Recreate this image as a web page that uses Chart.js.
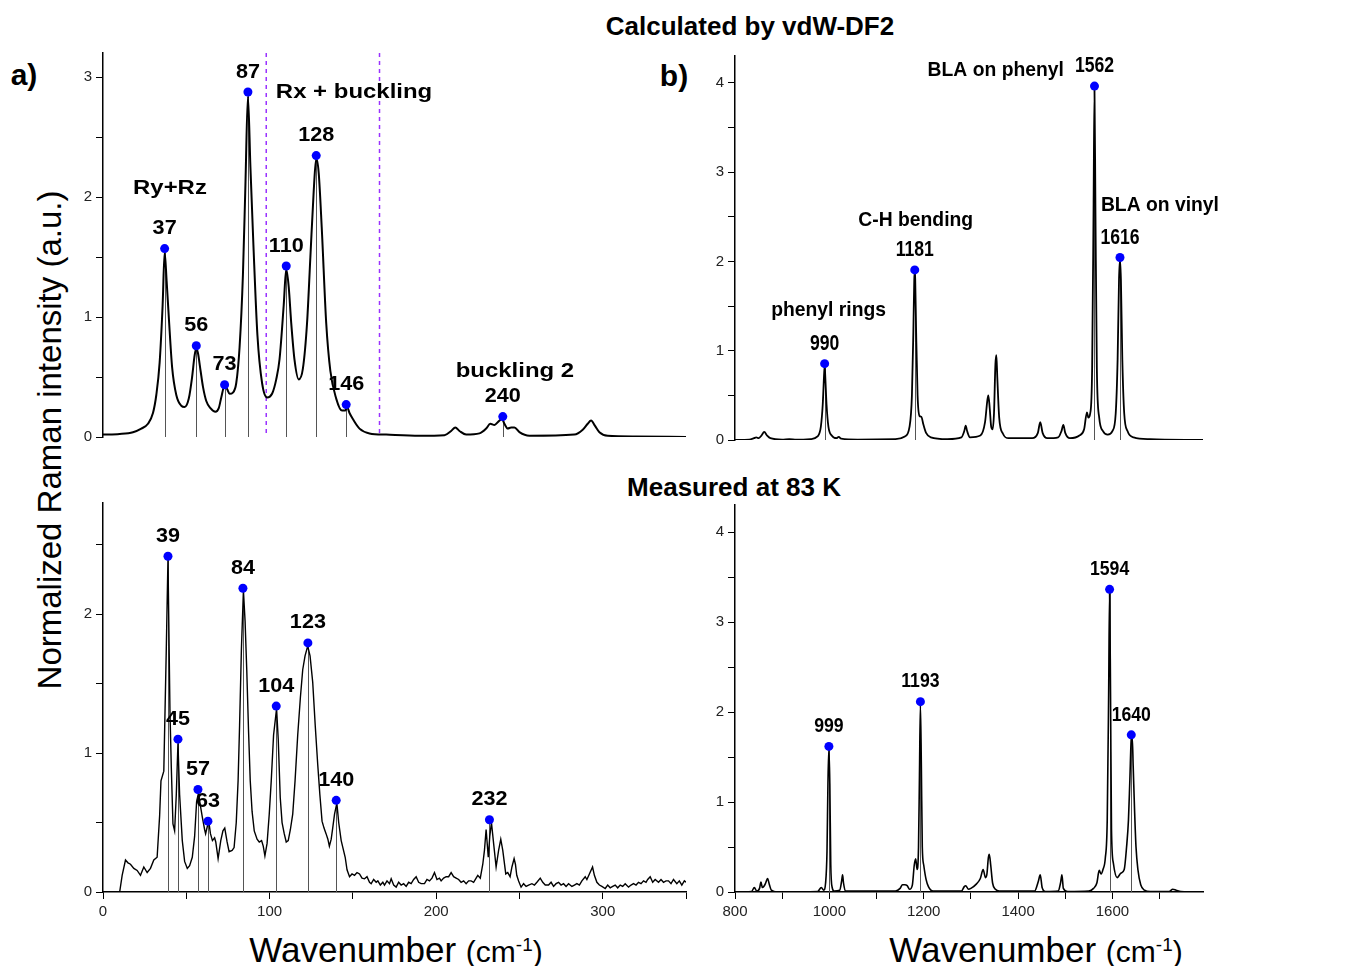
<!DOCTYPE html>
<html lang="en">
<head>
<meta charset="UTF-8">
<title>Raman spectra - calculated vs measured</title>
<script src="https://cdn.jsdelivr.net/npm/chart.js@4.4.0/dist/chart.umd.min.js"></script>
<style>
  body { margin:0; background:#fff; width:1353px; height:966px; position:relative; overflow:hidden;
         font-family:"Liberation Sans", Arial, sans-serif; color:#000; }
  canvas { position:absolute; }
  .txt { position:absolute; transform:translate(-50%,-50%); white-space:nowrap; }
  .bold { font-weight:bold; }
  .axt { font-size:33px; }
  .axt.x { font-size:35px; }
  .axt span { font-size:30px; }
  .axt sup { font-size:19px; }
</style>
</head>
<body>

<div class="txt bold" style="left:750px;top:26px;font-size:26px">Calculated by vdW-DF2</div>
<div class="txt bold" style="left:734px;top:487px;font-size:26px">Measured at 83 K</div>
<div class="txt bold" style="left:24px;top:75px;font-size:30px">a)</div>
<div class="txt bold" style="left:674px;top:76px;font-size:30px">b)</div>
<div class="txt axt" style="left:50px;top:440px;transform:translate(-50%,-50%) rotate(-90deg)">Normalized Raman intensity (a.u.)</div>
<div class="txt axt x" style="left:396px;top:950px">Wavenumber <span>(cm<sup>-1</sup>)</span></div>
<div class="txt axt x" style="left:1036px;top:950px">Wavenumber <span>(cm<sup>-1</sup>)</span></div>

<canvas id="calcLow"></canvas>
<canvas id="calcHigh"></canvas>
<canvas id="measLow"></canvas>
<canvas id="measHigh"></canvas>

<script>
const FONT = '"Liberation Sans", Arial, sans-serif';

// x tick values shared by the upper and lower panels
const lowTicks = [0, 50, 100, 150, 200, 250, 300, 350];
const highTicks = [800, 900, 1000, 1100, 1200, 1300, 1400, 1500, 1600, 1700];

// a) calculated, 0-350 cm-1
const calcLowWn = [0, 10, 18, 23, 27, 30, 32, 34, 35.8, 37, 38.2, 39.5, 41.5, 44, 47, 49, 51.5, 53.5, 55, 56, 57, 58.6, 60, 62, 64.5, 67.5, 69.5, 71, 73, 74.5, 76, 78, 80, 82, 84, 85.5, 87, 88.5, 90.3, 92.7, 95.5, 98.5, 101.5, 104, 106, 108.5, 110, 111.5, 113, 115, 117.5, 120, 122.5, 124.5, 126.5, 128, 129.5, 131.3, 134, 136.5, 140, 143.5, 145.5, 146.5, 148, 150, 154, 160, 170, 190, 205, 209, 211.5, 214, 218, 226, 230, 232.5, 235, 237.5, 239.5, 241, 243, 245, 247, 250, 256, 283, 288, 291, 293, 295.5, 298, 303, 320, 350];
const calcLowInt = [0.02, 0.025, 0.04, 0.07, 0.11, 0.2, 0.35, 0.62, 1.1, 1.54, 1.3, 1.0, 0.58, 0.35, 0.26, 0.25, 0.32, 0.5, 0.68, 0.74, 0.7, 0.55, 0.42, 0.3, 0.24, 0.21, 0.24, 0.33, 0.43, 0.4, 0.36, 0.37, 0.45, 0.75, 1.35, 2.1, 2.84, 2.25, 1.6, 0.85, 0.45, 0.33, 0.36, 0.48, 0.65, 1.1, 1.4, 1.25, 0.95, 0.64, 0.48, 0.57, 0.95, 1.5, 2.05, 2.32, 2.2, 1.75, 0.95, 0.55, 0.32, 0.22, 0.22, 0.25, 0.2, 0.15, 0.07, 0.03, 0.02, 0.01, 0.015, 0.05, 0.08, 0.05, 0.02, 0.03, 0.07, 0.11, 0.1, 0.13, 0.15, 0.11, 0.07, 0.08, 0.08, 0.04, 0.01, 0.02, 0.06, 0.11, 0.137, 0.09, 0.04, 0.01, 0.005, 0];
const calcLowPeakWn = [37, 56, 73, 87, 110, 128, 146, 240];
const calcLowPeakInt = [1.57, 0.76, 0.435, 2.875, 1.425, 2.345, 0.27, 0.17];
const modeBounds = [98, 166];

// b) calculated, 800-1790 cm-1
const calcHighWn = [800, 830, 840, 845, 850, 856, 862, 868, 875, 900, 915, 930, 960, 975, 982, 986, 989, 990, 991, 994, 998, 1005, 1015, 1020, 1025, 1060, 1140, 1160, 1170, 1175, 1178, 1180, 1181, 1182, 1184, 1187, 1191, 1195, 1199, 1205, 1215, 1250, 1280, 1286, 1289, 1292, 1298, 1320, 1330, 1335, 1337, 1340, 1343, 1346, 1349, 1352, 1354, 1356, 1360, 1368, 1380, 1430, 1442, 1447, 1452, 1462, 1485, 1492, 1496, 1500, 1510, 1530, 1540, 1546, 1549, 1553, 1557, 1560, 1562, 1564, 1567, 1572, 1580, 1590, 1600, 1607, 1611, 1614, 1616, 1618, 1621, 1625, 1632, 1645, 1680, 1792];
const calcHighInt = [0, 0.005, 0.02, 0.03, 0.02, 0.05, 0.09, 0.05, 0.02, 0.005, 0.01, 0.003, 0.01, 0.04, 0.15, 0.4, 0.75, 0.82, 0.75, 0.4, 0.15, 0.05, 0.02, 0.035, 0.015, 0.005, 0.01, 0.04, 0.15, 0.5, 1.2, 1.8, 1.88, 1.8, 1.2, 0.5, 0.27, 0.26, 0.18, 0.08, 0.03, 0.01, 0.03, 0.1, 0.16, 0.1, 0.03, 0.05, 0.2, 0.45, 0.5, 0.35, 0.15, 0.12, 0.3, 0.85, 0.95, 0.7, 0.25, 0.07, 0.02, 0.02, 0.08, 0.2, 0.08, 0.02, 0.03, 0.1, 0.17, 0.08, 0.02, 0.05, 0.12, 0.31, 0.25, 0.3, 0.8, 2.6, 3.92, 2.6, 0.8, 0.25, 0.1, 0.06, 0.1, 0.3, 0.9, 1.8, 2.02, 1.8, 0.9, 0.3, 0.1, 0.03, 0.01, 0];
const calcHighPeakWn = [990, 1181, 1562, 1616];
const calcHighPeakInt = [0.855, 1.905, 3.963, 2.044];

// measured at 83 K, 0-350 cm-1
const measLowWn = [10, 11.5, 13.5, 15, 16.5, 18.5, 20.5, 22.5, 24.5, 26.5, 28.5, 30.5, 32.5, 34, 34.8, 36.5, 38, 39, 40.2, 41, 42, 43, 44, 45, 46, 47.6, 49, 50.6, 52, 53.6, 55, 56.2, 57.3, 58.5, 59.6, 61, 61.6, 62.8, 63.6, 64.5, 65.7, 67, 67.7, 69.1, 70.7, 72, 73.1, 74.5, 75.7, 77.5, 78.7, 80, 81.1, 82, 83.1, 84.3, 85.3, 86.3, 87.4, 88.4, 89.5, 90.8, 92.5, 93.8, 95.2, 96.2, 97.2, 98.5, 99.8, 101, 102.4, 104.2, 105.2, 106.4, 107.5, 108.8, 110, 111.2, 112.5, 113.9, 115.3, 116.9, 118.5, 119.9, 121.3, 122.9, 124.3, 125.9, 127.4, 128.9, 130.2, 131.5, 132.7, 133.9, 135, 135.9, 137, 137.9, 139, 140.4, 141.5, 143, 144, 145.4, 146.5, 148, 149.5, 151, 152.5, 154, 155.5, 157, 158.5, 160, 161, 162.5, 164, 165, 166.5, 168, 169, 170.5, 172, 173, 174.5, 176, 177.5, 179, 180.5, 182, 183.5, 185, 186.5, 188, 189.5, 191, 193, 194.5, 196, 197.5, 199, 200.5, 202, 203, 204.5, 206, 207.5, 209, 210.5, 212, 213.5, 215, 216.5, 218, 219.5, 221, 222.5, 224, 225, 226.5, 228, 229, 230, 231.3, 232.2, 233.2, 234.5, 236, 237.5, 238.8, 240, 241.8, 243, 244.4, 245.5, 246.8, 247.6, 248.4, 249.5, 251, 252.5, 254, 255.5, 257.5, 259, 260.5, 262.5, 264, 265.5, 267.5, 269, 270.5, 272, 273.5, 275, 276.5, 278, 279.5, 281.5, 283, 284.5, 286, 287.5, 289.5, 290.5, 292, 293.9, 295, 296.5, 298, 299.5, 301.5, 303, 304.5, 306, 307.5, 309, 310.5, 312, 313.5, 315.5, 317, 318.5, 320, 321.5, 323, 324.5, 326, 327, 328.5, 330, 331.5, 333.5, 335, 336.5, 338, 339.5, 341, 342.5, 344.5, 346, 347.5, 349, 350];
const measLowInt = [0, 0.12, 0.23, 0.21, 0.2, 0.17, 0.155, 0.12, 0.18, 0.14, 0.17, 0.23, 0.25, 0.55, 0.8, 0.87, 1.75, 2.4, 1.3, 0.9, 0.49, 0.44, 0.7, 1.07, 0.7, 0.37, 0.22, 0.17, 0.19, 0.25, 0.4, 0.65, 0.71, 0.62, 0.54, 0.45, 0.42, 0.48, 0.5, 0.42, 0.37, 0.39, 0.36, 0.24, 0.37, 0.44, 0.46, 0.36, 0.29, 0.3, 0.32, 0.5, 0.8, 1.2, 1.75, 2.17, 1.95, 1.6, 1.15, 0.8, 0.58, 0.44, 0.38, 0.36, 0.37, 0.33, 0.26, 0.35, 0.56, 0.8, 1.13, 1.32, 1.1, 0.68, 0.5, 0.42, 0.36, 0.37, 0.45, 0.56, 0.8, 1.13, 1.4, 1.6, 1.7, 1.77, 1.7, 1.51, 1.2, 0.92, 0.7, 0.51, 0.46, 0.42, 0.38, 0.33, 0.38, 0.46, 0.56, 0.64, 0.5, 0.37, 0.32, 0.25, 0.16, 0.11, 0.13, 0.12, 0.14, 0.13, 0.1, 0.095, 0.11, 0.07, 0.06, 0.09, 0.07, 0.08, 0.05, 0.07, 0.05, 0.08, 0.06, 0.095, 0.05, 0.035, 0.07, 0.05, 0.06, 0.04, 0.07, 0.06, 0.09, 0.11, 0.07, 0.06, 0.06, 0.09, 0.08, 0.1, 0.14, 0.09, 0.1, 0.08, 0.1, 0.11, 0.11, 0.14, 0.11, 0.1, 0.09, 0.07, 0.08, 0.06, 0.08, 0.08, 0.07, 0.1, 0.12, 0.1, 0.2, 0.3, 0.45, 0.25, 0.4, 0.5, 0.35, 0.18, 0.3, 0.38, 0.3, 0.13, 0.14, 0.11, 0.18, 0.24, 0.2, 0.12, 0.08, 0.035, 0.06, 0.04, 0.05, 0.06, 0.05, 0.07, 0.1, 0.07, 0.05, 0.05, 0.07, 0.04, 0.06, 0.07, 0.05, 0.06, 0.04, 0.06, 0.04, 0.05, 0.06, 0.05, 0.08, 0.11, 0.09, 0.13, 0.18, 0.12, 0.07, 0.05, 0.04, 0.025, 0.05, 0.03, 0.04, 0.05, 0.03, 0.05, 0.04, 0.06, 0.035, 0.05, 0.06, 0.05, 0.07, 0.06, 0.08, 0.07, 0.09, 0.11, 0.07, 0.09, 0.07, 0.09, 0.07, 0.08, 0.08, 0.06, 0.09, 0.06, 0.08, 0.05, 0.08, 0.07];
const measLowPeakWn = [39, 45, 57, 63, 84, 104, 123, 140, 232];
const measLowPeakInt = [2.417, 1.10, 0.738, 0.51, 2.186, 1.338, 1.793, 0.66, 0.52];

// measured at 83 K, 800-1790 cm-1
const measHighWn = [800, 835, 841, 846, 852, 855, 858, 861, 865, 869, 873, 877, 890, 975, 983, 988, 992, 995, 997, 999, 1001, 1003, 1006, 1010, 1022, 1026, 1028, 1030, 1034, 1140, 1150, 1155, 1160, 1165, 1170, 1176, 1180, 1183, 1186, 1189, 1191, 1193, 1195, 1197, 1200, 1205, 1210, 1220, 1280, 1286, 1289, 1295, 1300, 1312, 1320, 1326, 1331, 1334, 1337, 1339, 1342, 1346, 1352, 1360, 1435, 1443, 1447, 1451, 1458, 1485, 1490, 1493, 1496, 1505, 1550, 1560, 1567, 1572, 1576, 1580, 1585, 1589, 1592, 1594, 1596, 1598, 1602, 1610, 1618, 1625, 1630, 1634, 1637, 1640, 1642, 1644, 1647, 1650, 1654, 1660, 1668, 1680, 1720, 1728, 1735, 1745, 1792];
const measHighInt = [0, 0.005, 0.05, 0.01, 0.04, 0.11, 0.05, 0.06, 0.1, 0.15, 0.08, 0.02, 0, 0.005, 0.05, 0.02, 0.1, 0.45, 1.2, 1.6, 1.2, 0.3, 0.05, 0.01, 0.02, 0.12, 0.19, 0.1, 0.01, 0.01, 0.04, 0.08, 0.08, 0.07, 0.03, 0.08, 0.3, 0.37, 0.25, 0.5, 1.3, 2.08, 1.4, 0.5, 0.3, 0.14, 0.06, 0.01, 0.01, 0.06, 0.07, 0.03, 0.04, 0.09, 0.15, 0.25, 0.16, 0.2, 0.38, 0.42, 0.3, 0.1, 0.03, 0.01, 0.01, 0.12, 0.19, 0.05, 0.005, 0.01, 0.1, 0.19, 0.04, 0.005, 0.01, 0.04, 0.1, 0.24, 0.2, 0.25, 0.38, 0.8, 2.2, 3.33, 2.2, 0.7, 0.32, 0.16, 0.21, 0.25, 0.5, 0.8, 1.25, 1.7, 1.72, 1.4, 0.9, 0.5, 0.25, 0.08, 0.02, 0.005, 0.005, 0.03, 0.02, 0.005, 0];
const measHighPeakWn = [999, 1193, 1594, 1640];
const measHighPeakInt = [1.618, 2.115, 3.363, 1.746];

// text drawn squeezed/stretched horizontally to match the source figure
function drawText(ctx, text, px, py, size, sx) {
  ctx.save();
  ctx.font = 'bold ' + size + 'px ' + FONT;
  ctx.translate(px, py);
  ctx.scale(sx, 1);
  ctx.fillText(text, 0, 0);
  ctx.restore();
}

function marks(cfg) {
  return {
    id: 'marks',
    beforeDatasetsDraw(chart) {
      const { ctx, scales: { x, y }, chartArea } = chart;
      ctx.save();
      // drop lines under each labelled peak
      ctx.strokeStyle = '#555';
      ctx.lineWidth = 1;
      cfg.peakWn.forEach((w, i) => {
        const px = Math.round(x.getPixelForValue(w)) + 0.5;
        ctx.beginPath();
        ctx.moveTo(px, y.getPixelForValue(0));
        ctx.lineTo(px, y.getPixelForValue(cfg.peakInt[i]));
        ctx.stroke();
      });
      if (cfg.bounds) {
        ctx.strokeStyle = '#9a32ff';
        ctx.lineWidth = 1.5;
        ctx.setLineDash([4, 4]);
        cfg.bounds.forEach(b => {
          const px = x.getPixelForValue(b);
          ctx.beginPath();
          ctx.moveTo(px, chartArea.top);
          ctx.lineTo(px, chartArea.bottom);
          ctx.stroke();
        });
      }
      ctx.restore();
    },
    afterDatasetsDraw(chart) {
      const { ctx, scales: { x, y } } = chart;
      ctx.save();
      ctx.fillStyle = '#000';
      ctx.textAlign = 'center';
      ctx.textBaseline = 'middle';
      cfg.peakWn.forEach((w, i) => {
        drawText(ctx, String(w), x.getPixelForValue(w), y.getPixelForValue(cfg.peakInt[i]) - 20,
                 cfg.labelSize, cfg.labelSx);
      });
      (cfg.notes || []).forEach(n => {
        drawText(ctx, n[0], x.getPixelForValue(n[1]), y.getPixelForValue(n[2]), cfg.noteSize, cfg.noteSx);
      });
      ctx.restore();
    }
  };
}

function panel(id, box, cfg) {
  const cv = document.getElementById(id);
  cv.style.left = box.left + 'px';
  cv.style.top = box.top + 'px';
  cv.width = box.w;
  cv.height = box.h;
  const line = cfg.wn.map((w, i) => ({ x: w, y: cfg.int[i] }));
  const dots = cfg.peakWn.map((w, i) => ({ x: w, y: cfg.peakInt[i] }));
  const tickFont = { family: FONT, size: 15 };
  new Chart(cv, {
    type: 'line',
    data: {
      datasets: [
        { data: dots, showLine: false, pointRadius: 4.5, pointBackgroundColor: '#0000ff', pointBorderWidth: 0 },
        { data: line, borderColor: '#000', borderWidth: cfg.lw, pointRadius: 0,
          cubicInterpolationMode: cfg.smooth ? 'monotone' : 'default', tension: 0 }
      ]
    },
    options: {
      responsive: false,
      animation: false,
      devicePixelRatio: 1,
      layout: { padding: { left: 0, top: 10, right: box.padR, bottom: cfg.showX ? 0 : 10 } },
      plugins: { legend: { display: false }, tooltip: { enabled: false } },
      scales: {
        x: {
          type: 'linear', min: cfg.xMin, max: cfg.xMax,
          display: cfg.showX,
          afterFit: s => { s.height = cfg.showX ? 35 : 0; },
          afterBuildTicks: s => { s.ticks = cfg.xTicks.map(v => ({ value: v })); },
          border: { display: true, color: '#000', width: 1.5 },
          grid: { drawOnChartArea: false, drawTicks: true, tickLength: 7, color: '#000' },
          ticks: {
            autoSkip: false, maxRotation: 0,
            padding: 4, color: '#222', font: tickFont,
            callback: v => (v % cfg.xLabelEvery === 0 ? v : '')
          }
        },
        y: {
          min: 0, max: cfg.yMax,
          afterFit: s => { s.width = 45; },
          border: { display: true, color: '#000', width: 1.5 },
          grid: { drawOnChartArea: false, drawTicks: true, tickLength: 7, color: '#000' },
          ticks: {
            stepSize: 0.5, includeBounds: false, autoSkip: false, padding: 4,
            color: '#222', font: tickFont,
            callback: v => (Math.abs(v - Math.round(v)) < 1e-6 ? Math.round(v) : '')
          }
        }
      }
    },
    plugins: [marks(cfg)]
  });
}

panel('calcLow', { left: 58, top: 40, w: 648, h: 410, padR: 20 }, {
  wn: calcLowWn, int: calcLowInt, peakWn: calcLowPeakWn, peakInt: calcLowPeakInt,
  bounds: modeBounds, smooth: true, lw: 2, showX: false,
  xMin: 0, xMax: 350, xTicks: lowTicks, xLabelEvery: 100, yMax: 3.2,
  labelSize: 20, labelSx: 1.08, noteSize: 21, noteSx: 1.14,
  notes: [['Ry+Rz', 40.2, 2.075], ['Rx + buckling', 150.7, 2.872], ['buckling 2', 247.3, 0.55]]
});

panel('calcHigh', { left: 690, top: 43, w: 538, h: 410, padR: 25 }, {
  wn: calcHighWn, int: calcHighInt, peakWn: calcHighPeakWn, peakInt: calcHighPeakInt,
  smooth: true, lw: 1.8, showX: false,
  xMin: 800, xMax: 1792, xTicks: highTicks, xLabelEvery: 200, yMax: 4.3,
  labelSize: 22, labelSx: 0.8, noteSize: 21, noteSx: 0.92,
  notes: [['phenyl rings', 998.4, 1.458], ['C-H bending', 1183, 2.46],
          ['BLA on phenyl', 1352.7, 4.137], ['BLA on vinyl', 1700.7, 2.626]]
});

panel('measLow', { left: 58, top: 490, w: 648, h: 437, padR: 20 }, {
  wn: measLowWn, int: measLowInt, peakWn: measLowPeakWn, peakInt: measLowPeakInt,
  smooth: false, lw: 1.4, showX: true,
  xMin: 0, xMax: 350, xTicks: lowTicks, xLabelEvery: 100, yMax: 2.8,
  labelSize: 20, labelSx: 1.08
});

panel('measHigh', { left: 690, top: 492, w: 538, h: 435, padR: 25 }, {
  wn: measHighWn, int: measHighInt, peakWn: measHighPeakWn, peakInt: measHighPeakInt,
  smooth: true, lw: 1.6, showX: true,
  xMin: 800, xMax: 1792, xTicks: highTicks, xLabelEvery: 200, yMax: 4.3,
  labelSize: 21, labelSx: 0.84
});
</script>
</body>
</html>
